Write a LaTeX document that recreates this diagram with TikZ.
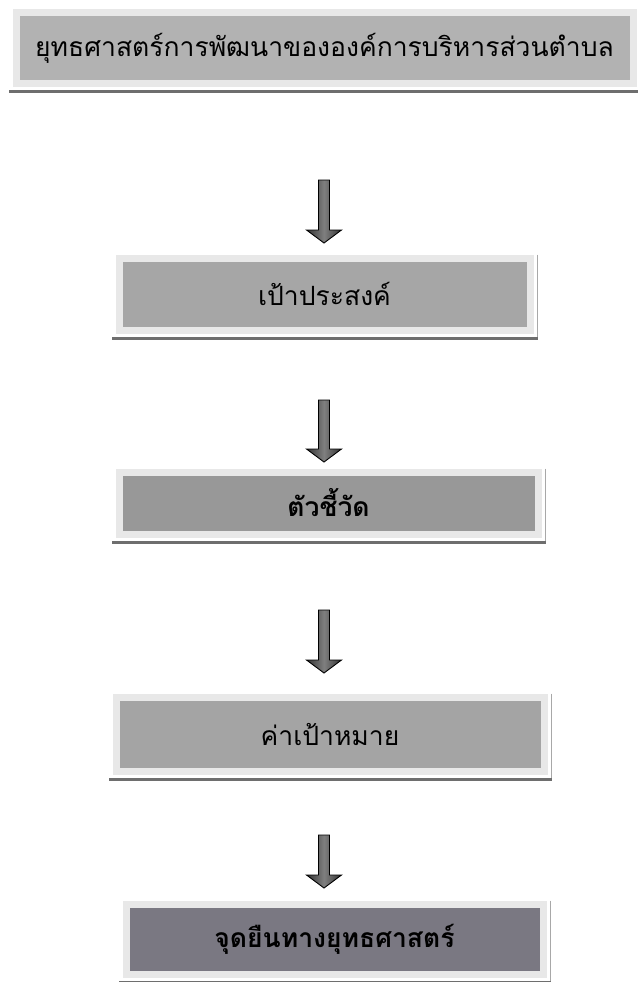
\documentclass[tikz,border=0pt]{standalone}
\usepackage{fontspec}
\newfontfamily\thaifont[Script=Thai]{Loma}
\usetikzlibrary{calc}
\definecolor{rim}{HTML}{E8E8E8}
\definecolor{fa}{HTML}{B2B2B2}
\definecolor{fb}{HTML}{A6A6A6}
\definecolor{fc}{HTML}{989898}
\definecolor{fd}{HTML}{A4A4A4}
\definecolor{fe}{HTML}{7A7882}
\definecolor{shade}{HTML}{6E6E6E}
\tikzset{
  box/.style={draw=rim, line width=7pt, inner sep=0pt, font=\thaifont\fontsize{26.5}{30}\selectfont, text=black},
  shadowline/.style={draw=shade, line width=3pt},
  sideline/.style={draw=shade!60, line width=1.2pt},
  arrowbody/.style={draw=black, line width=0.9pt, line join=miter, left color=black!80, right color=black!80, middle color=black!50}
}
\newcommand\blkarrow[2]{%
  \path[arrowbody] ($(#1)+(-5.5,0)$) -- ($(#1)+(5.5,0)$) -- ($(#2)+(5.5,-13)$) -- ($(#2)+(17.5,-13)$) -- (#2) -- ($(#2)+(-17.5,-13)$) -- ($(#2)+(-5.5,-13)$) -- cycle;}
\newcommand\boxshadow[1]{%
  \draw[sideline] ($(#1.north east)+(4.1,0)$) -- ($(#1.south east)+(4.1,3.5)$);
  \draw[shadowline] ($(#1.south west)+(-3.5,5)$) -- ($(#1.south east)+(4.5,5)$);}
\begin{document}
\begin{tikzpicture}[x=1pt,y=-1pt]
\useasboundingbox[fill=white] (0,0) rectangle (637,982);
\node[box, fill=fa, minimum width=617pt, minimum height=70pt] (b1) at (324.5,48) {ยุทธศาสตร์การพัฒนาขององค์การบริหารส่วนตำบล};
\node[box, fill=fb, minimum width=411pt, minimum height=72pt] (b2) at (324.5,294) {เป้าประสงค์};
\node[box, fill=fc, minimum width=419pt, minimum height=62pt] (b3) at (328.5,503) {\bfseries ตัวชี้วัด};
\node[box, fill=fd, minimum width=428pt, minimum height=74pt] (b4) at (330,734) {ค่าเป้าหมาย};
\node[box, fill=fe, minimum width=417pt, minimum height=70pt] (b5) at (334.5,939) {\bfseries จุดยืนทางยุทธศาสตร์};
\foreach \b in {b1,b2,b3,b4,b5} {\boxshadow{\b}}
\coordinate (a1s) at (324,180); \coordinate (a1e) at (324,243);
\coordinate (a2s) at (324,400); \coordinate (a2e) at (324,462);
\coordinate (a3s) at (324,610); \coordinate (a3e) at (324,673);
\coordinate (a4s) at (324,835); \coordinate (a4e) at (324,888);
\blkarrow{a1s}{a1e}
\blkarrow{a2s}{a2e}
\blkarrow{a3s}{a3e}
\blkarrow{a4s}{a4e}
\end{tikzpicture}
\end{document}
